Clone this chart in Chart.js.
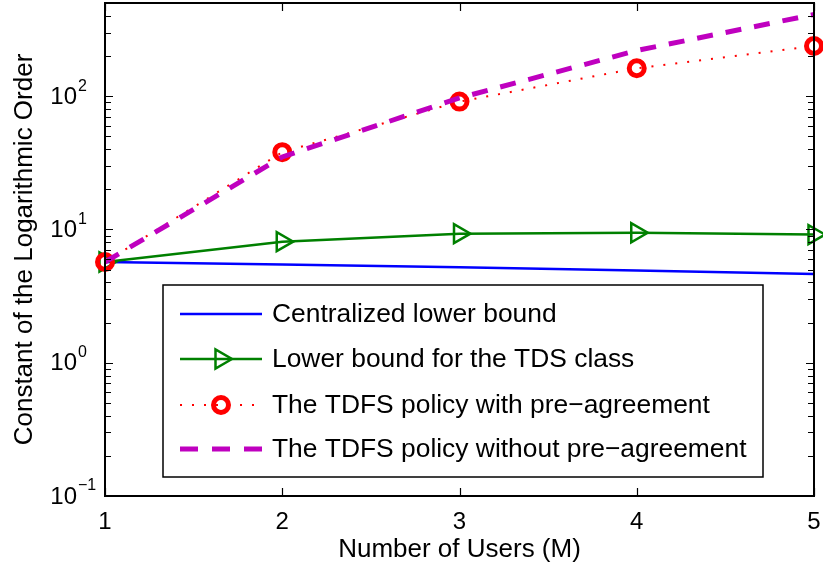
<!DOCTYPE html>
<html>
<head>
<meta charset="utf-8">
<script src="https://cdn.jsdelivr.net/npm/chart.js@4"></script>
<style>
  html, body { margin: 0; padding: 0; background: #fff; }
  canvas { display: block; }
</style>
</head>
<body>
<canvas id="chart" width="823" height="571"></canvas>
<script>
const users = [1, 2, 3, 4, 5];
const centralized = [5.7, 5.45, 5.2, 4.92, 4.64];
const tdsBound = [5.7, 8.1, 9.3, 9.45, 9.15];
const withAgreement = [5.7, 38, 91, 162, 238];
const withoutAgreement = [5.7, 35, 97, 220, 410];

const xTicks = [1, 2, 3, 4, 5];
const yTicks = [0.1, 1, 10, 100];
const yTickExp = ['\u22121', '0', '1', '2'];
const yMinor = [0.2, 0.3, 0.4, 0.5, 0.6, 0.7, 0.8, 0.9, 2, 3, 4, 5, 6, 7, 8, 9,
                20, 30, 40, 50, 60, 70, 80, 90, 200, 300, 400];

const legendLabels = [
    'Centralized lower bound',
    'Lower bound for the TDS class',
    'The TDFS policy with pre\u2212agreement',
    'The TDFS policy without pre\u2212agreement'
];

const FONT = '"Liberation Sans", Arial, Helvetica, sans-serif';

function pts(ys) {
    return users.map((x, i) => ({ x: x, y: ys[i] }));
}

function drawTriangle(ctx, x, y, r) {
    ctx.beginPath();
    ctx.moveTo(x + r, y);
    ctx.lineTo(x - 0.5 * r, y + 0.866 * r);
    ctx.lineTo(x - 0.5 * r, y - 0.866 * r);
    ctx.closePath();
    ctx.stroke();
}

const matlabFrame = {
    id: 'matlabFrame',
    afterDraw(chart) {
        const ctx = chart.ctx;
        const area = chart.chartArea;
        const xs = chart.scales.x;
        const ys = chart.scales.y;
        ctx.save();

        // axes box
        ctx.strokeStyle = '#000';
        ctx.lineWidth = 2;
        ctx.strokeRect(area.left, area.top, area.right - area.left, area.bottom - area.top);

        // x ticks (inside, top and bottom)
        ctx.lineWidth = 1.2;
        ctx.beginPath();
        xTicks.forEach(v => {
            const px = Math.round(xs.getPixelForValue(v)) + 0.5;
            ctx.moveTo(px, area.bottom); ctx.lineTo(px, area.bottom - 8);
            ctx.moveTo(px, area.top); ctx.lineTo(px, area.top + 8);
        });
        // y major ticks
        yTicks.forEach(v => {
            const py = Math.round(ys.getPixelForValue(v)) + 0.5;
            ctx.moveTo(area.left, py); ctx.lineTo(area.left + 8, py);
            ctx.moveTo(area.right, py); ctx.lineTo(area.right - 8, py);
        });
        // y minor ticks
        yMinor.forEach(v => {
            const py = Math.round(ys.getPixelForValue(v)) + 0.5;
            ctx.moveTo(area.left, py); ctx.lineTo(area.left + 6, py);
            ctx.moveTo(area.right, py); ctx.lineTo(area.right - 6, py);
        });
        ctx.stroke();

        // tick labels
        ctx.fillStyle = '#000';
        ctx.font = '24px ' + FONT;
        ctx.textAlign = 'center';
        ctx.textBaseline = 'middle';
        xTicks.forEach(v => {
            ctx.fillText(String(v), xs.getPixelForValue(v), area.bottom + 26);
        });
        yTicks.forEach((v, i) => {
            const py = ys.getPixelForValue(v);
            ctx.font = '24px ' + FONT;
            ctx.textAlign = 'right';
            ctx.fillText('10', 77, py + 1);
            ctx.font = '16px ' + FONT;
            ctx.textAlign = 'left';
            ctx.fillText(yTickExp[i], 78, py - 10);
        });

        // axis titles
        ctx.font = '26px ' + FONT;
        ctx.textAlign = 'center';
        ctx.fillText('Number of Users (M)', (area.left + area.right) / 2, 550);
        ctx.save();
        ctx.translate(25, (area.top + area.bottom) / 2);
        ctx.rotate(-Math.PI / 2);
        ctx.fillText('Constant of the Logarithmic Order', 0, 0);
        ctx.restore();

        // legend
        const lx = 163, ly = 285, lw = 600, lh = 192;
        ctx.fillStyle = '#fff';
        ctx.fillRect(lx, ly, lw, lh);
        ctx.strokeStyle = '#000';
        ctx.lineWidth = 1.5;
        ctx.strokeRect(lx, ly, lw, lh);
        const rows = [314, 359, 405, 449];
        const x0 = 180, x1 = 262, xm = 221;
        ctx.lineCap = 'butt';

        ctx.strokeStyle = '#0000ff';
        ctx.lineWidth = 2.5;
        ctx.beginPath(); ctx.moveTo(x0, rows[0]); ctx.lineTo(x1, rows[0]); ctx.stroke();

        ctx.strokeStyle = '#008000';
        ctx.beginPath(); ctx.moveTo(x0, rows[1]); ctx.lineTo(x1, rows[1]); ctx.stroke();
        drawTriangle(ctx, xm, rows[1], 11);

        ctx.strokeStyle = '#ff0000';
        ctx.lineWidth = 2;
        ctx.setLineDash([2, 10]);
        ctx.beginPath(); ctx.moveTo(x0, rows[2]); ctx.lineTo(x1, rows[2]); ctx.stroke();
        ctx.setLineDash([]);
        ctx.lineWidth = 5;
        ctx.beginPath(); ctx.arc(xm, rows[2], 7.5, 0, Math.PI * 2); ctx.stroke();

        ctx.strokeStyle = '#bf00bf';
        ctx.lineWidth = 5;
        ctx.setLineDash([18, 14]);
        ctx.beginPath(); ctx.moveTo(x0, rows[3]); ctx.lineTo(x1, rows[3]); ctx.stroke();
        ctx.setLineDash([]);

        ctx.fillStyle = '#000';
        ctx.font = '26.4px ' + FONT;
        ctx.textAlign = 'left';
        ctx.textBaseline = 'middle';
        legendLabels.forEach((t, i) => ctx.fillText(t, 272, rows[i] + 1));

        ctx.restore();
    }
};

new Chart(document.getElementById('chart'), {
    type: 'line',
    data: {
        datasets: [
            {
                label: legendLabels[0],
                data: pts(centralized),
                borderColor: '#0000ff',
                borderWidth: 2.5,
                pointRadius: 0,
                order: 3,
                clip: false
            },
            {
                label: legendLabels[1],
                data: pts(tdsBound),
                borderColor: '#008000',
                borderWidth: 2.5,
                pointStyle: 'triangle',
                pointRotation: 90,
                pointRadius: 11,
                pointBorderWidth: 2.5,
                pointBackgroundColor: 'rgba(0,0,0,0)',
                pointBorderColor: '#008000',
                order: 2,
                clip: false
            },
            {
                label: legendLabels[2],
                data: pts(withAgreement),
                borderColor: '#ff0000',
                borderWidth: 2,
                borderDash: [2, 10],
                pointStyle: 'circle',
                pointRadius: 7.5,
                pointBorderWidth: 5,
                pointBackgroundColor: 'rgba(0,0,0,0)',
                pointBorderColor: '#ff0000',
                order: 1,
                clip: false
            },
            {
                label: legendLabels[3],
                data: pts(withoutAgreement),
                borderColor: '#bf00bf',
                borderWidth: 5,
                borderDash: [16, 13],
                pointRadius: 0,
                order: 0,
                clip: false
            }
        ]
    },
    options: {
        responsive: false,
        animation: false,
        layout: { autoPadding: false, padding: { left: 105, right: 9, top: 3, bottom: 75 } },
        elements: { line: { tension: 0 } },
        plugins: {
            legend: { display: false },
            tooltip: { enabled: false }
        },
        scales: {
            x: { type: 'linear', min: 1, max: 5, display: false },
            y: { type: 'logarithmic', min: 0.1, max: 500, display: false }
        }
    },
    plugins: [matlabFrame]
});
</script>
</body>
</html>
